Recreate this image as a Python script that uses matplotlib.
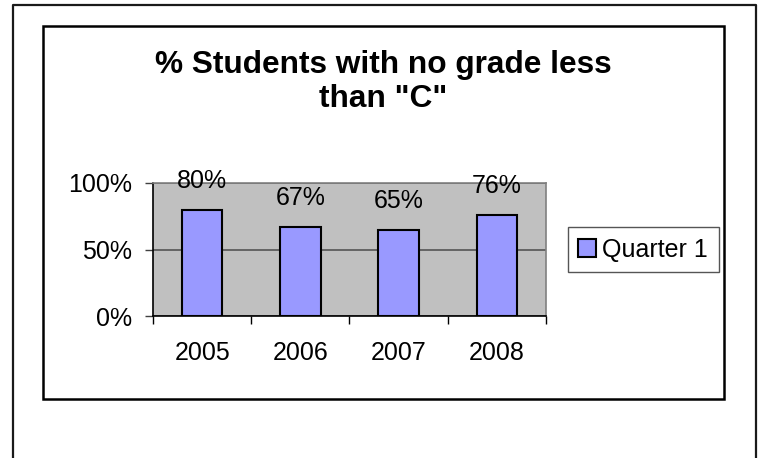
import matplotlib
matplotlib.use("Agg")
import matplotlib.pyplot as plt
from matplotlib.lines import Line2D
from matplotlib.patches import Rectangle

years = ["2005", "2006", "2007", "2008"]
values = [0.80, 0.67, 0.65, 0.76]
value_labels = ["80%", "67%", "65%", "76%"]
series_name = "Quarter 1"
title_lines = ["% Students with no grade less", 'than "C"']
yticks = [0.0, 0.5, 1.0]
ytick_labels = ["0%", "50%", "100%"]

W, H = 759, 458
plt.rcParams['font.family'] = ['Liberation Sans', 'DejaVu Sans']
fig = plt.figure(figsize=(W / 100, H / 100), dpi=100)

def fx(px):
    return px / W

def fy(py):
    return 1 - py / H

# outer frame (left, top, right; no bottom)
fig.add_artist(Line2D([fx(13), fx(13), fx(756), fx(756)],
                      [fy(460), fy(5), fy(5), fy(460)],
                      transform=fig.transFigure, color='#1a1a1a', lw=1.6))
# inner chart box
fig.add_artist(Rectangle((fx(43), fy(399)), fx(724) - fx(43), fy(26) - fy(399),
                         transform=fig.transFigure, fill=False,
                         edgecolor='black', lw=1.8))

ax = fig.add_axes([fx(153), fy(316), fx(546) - fx(153), fy(183) - fy(316)])
ax.set_facecolor('#C0C0C0')
x = list(range(len(years)))
bars = ax.bar(x, values, width=0.41, color='#9999FF', edgecolor='black',
              linewidth=1.5, label=series_name, zorder=3)
ax.set_xlim(-0.5, len(years) - 0.5)
ax.set_ylim(0, 1.0)

for xi, v, lab in zip(x, values, value_labels):
    ax.annotate(lab, (xi, v), xytext=(0, 15.5), textcoords='offset points',
                ha='center', va='baseline', fontsize=18, color='black')

ax.set_yticks(yticks)
ax.set_yticklabels(ytick_labels, fontsize=18)
ax.yaxis.grid(True, color='#555555', lw=1.2, zorder=1)
ax.tick_params(axis='y', length=6, width=1, color='#404040', pad=9)

ax.set_xticks([i - 0.5 for i in range(len(years) + 1)])
ax.set_xticklabels([])
ax.set_xticks(x, minor=True)
ax.set_xticklabels(years, minor=True, fontsize=18)
ax.tick_params(axis='x', which='major', length=6, width=1, color='black')
ax.tick_params(axis='x', which='minor', length=0, pad=18)

for side in ['top', 'right']:
    ax.spines[side].set_color('#808080')
    ax.spines[side].set_linewidth(1.2)
for side in ['left', 'bottom']:
    ax.spines[side].set_color('black')
    ax.spines[side].set_linewidth(1.2)

fig.text(fx(383.5), fy(73), title_lines[0], ha='center', va='baseline',
         fontsize=22.8, fontweight='bold')
fig.text(fx(383.5), fy(107), title_lines[1], ha='center', va='baseline',
         fontsize=22.8, fontweight='bold')

leg = fig.legend(handles=[bars], labels=[series_name], loc='center left',
                 bbox_to_anchor=(fx(567.7), fy(249.7)), fontsize=18,
                 frameon=True, fancybox=False, framealpha=1,
                 edgecolor='#555555', handlelength=0.7, handleheight=0.7,
                 handletextpad=0.25, borderpad=0.43, borderaxespad=0)
leg.get_frame().set_linewidth(1.0)

fig.savefig("out.png", dpi=100)
